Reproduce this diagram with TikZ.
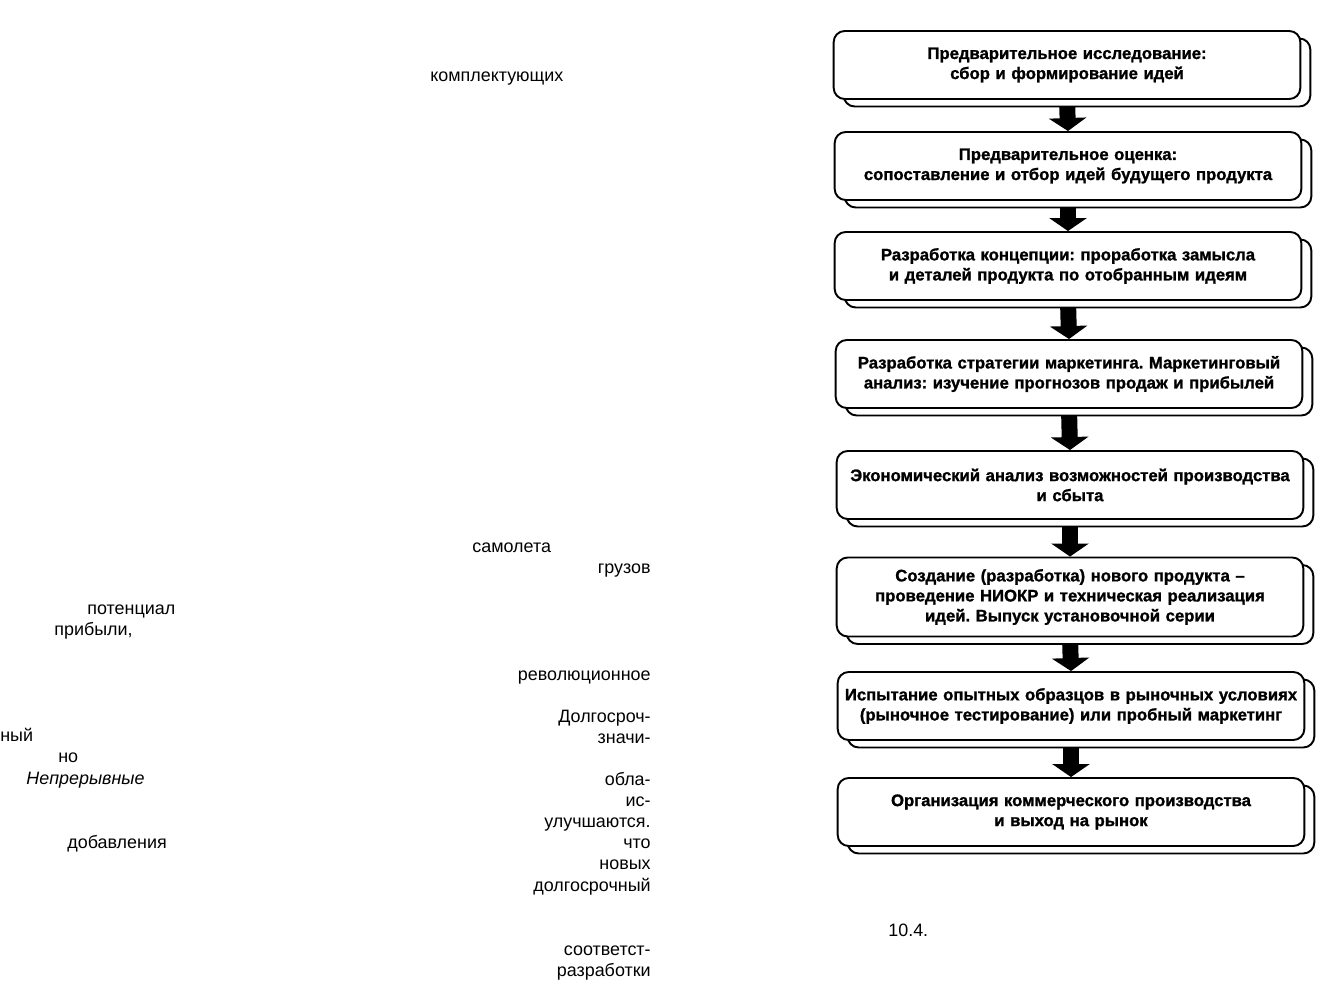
\documentclass[tikz,border=0pt]{standalone}
\usepackage{fontspec}
\setmainfont{Liberation Sans}
\newfontfamily\heavyfont[FakeBold=1.2]{Liberation Sans Bold}
\usepackage{tikz}
\usetikzlibrary{arrows.meta,positioning,shadows}
\frenchspacing
\tikzset{
  stage/.style={
    rectangle,
    rounded corners=0.22cm,
    draw=black,
    line width=1.1pt,
    fill=white,
    align=center,
    minimum height=1.36cm,
    minimum width=9.3cm,
    text width=9.1cm,
    font=\heavyfont\fontsize{9.5}{11.4}\selectfont,
    copy shadow={shadow xshift=0.2cm,shadow yshift=-0.15cm,draw=black,fill=white,line width=1.1pt}
  },
  stray/.style={inner sep=0pt,font=\fontsize{10.2}{12}\selectfont},
  flow/.style={-{Triangle[length=0.26cm,width=0.74cm]},line width=0.32cm,draw=black,shorten <=0.14cm}
}
\begin{document}
\begin{tikzpicture}[x=0.02cm,y=-0.02cm]
    \useasboundingbox[fill=white] (0,0) rectangle (1335,993);

    % left page, cut-off words
    \node[stray,anchor=base west] (w1) at (430,82) {комплектующих};
    \node[stray,anchor=base west] (w2) at (472,552) {самолета};
    \node[stray,anchor=base east] (w3) at (651,573) {грузов};
    \node[stray,anchor=base west] (w4) at (87,614) {потенциал};
    \node[stray,anchor=base west] (w5) at (54,635) {прибыли,};
    \node[stray,anchor=base east] (w6) at (651,680) {революционное};
    \node[stray,anchor=base east] (w7) at (651,722) {Долгосроч-};
    \node[stray,anchor=base east] (w8) at (651,743) {значи-};
    \node[stray,anchor=base west] (w9) at (0,741) {ный};
    \node[stray,anchor=base west] (w10) at (58,762) {но};
    \node[stray,anchor=base west,font=\fontsize{10.2}{12}\selectfont\itshape] (w11) at (26,784) {Непрерывные};
    \node[stray,anchor=base east] (w12) at (651,785) {обла-};
    \node[stray,anchor=base east] (w13) at (651,806) {ис-};
    \node[stray,anchor=base east] (w14) at (651,827) {улучшаются.};
    \node[stray,anchor=base east] (w15) at (651,848) {что};
    \node[stray,anchor=base east] (w16) at (651,869) {новых};
    \node[stray,anchor=base east] (w17) at (651,891) {долгосрочный};
    \node[stray,anchor=base west] (w18) at (67,848) {добавления};
    \node[stray,anchor=base east] (w19) at (651,955) {соответст-};
    \node[stray,anchor=base east] (w20) at (651,976) {разработки};
    \node[stray,anchor=base west] (fig) at (888,936) {10.4.};

    % stages
    \node[stage] (b1) at (1067,65) {Предварительное исследование:\\сбор и формирование идей};
    \node[stage] (b2) at (1068,166) {Предварительное оценка:\\сопоставление и отбор идей будущего продукта};
    \node[stage] (b3) at (1068,266) {Разработка концепции: проработка замысла\\и деталей продукта по отобранным идеям};
    \node[stage] (b4) at (1069,374) {Разработка стратегии маркетинга. Маркетинговый\\анализ: изучение прогнозов продаж и прибылей};
    \node[stage] (b5) at (1070,485) {Экономический анализ возможностей производства\\и сбыта};
    \node[stage,minimum height=1.58cm] (b6) at (1070,597) {Создание (разработка) нового продукта –\\проведение НИОКР и техническая реализация\\идей. Выпуск установочной серии};
    \node[stage] (b7) at (1071,706) {Испытание опытных образцов в рыночных условиях\\(рыночное тестирование) или пробный маркетинг};
    \node[stage] (b8) at (1071,812) {Организация коммерческого производства\\и выход на рынок};

    \foreach \a/\b in {b1/b2,b2/b3,b3/b4,b4/b5,b5/b6,b6/b7,b7/b8}
      \draw[flow] (\a.south) -- (\b.north);
\end{tikzpicture}
\end{document}
